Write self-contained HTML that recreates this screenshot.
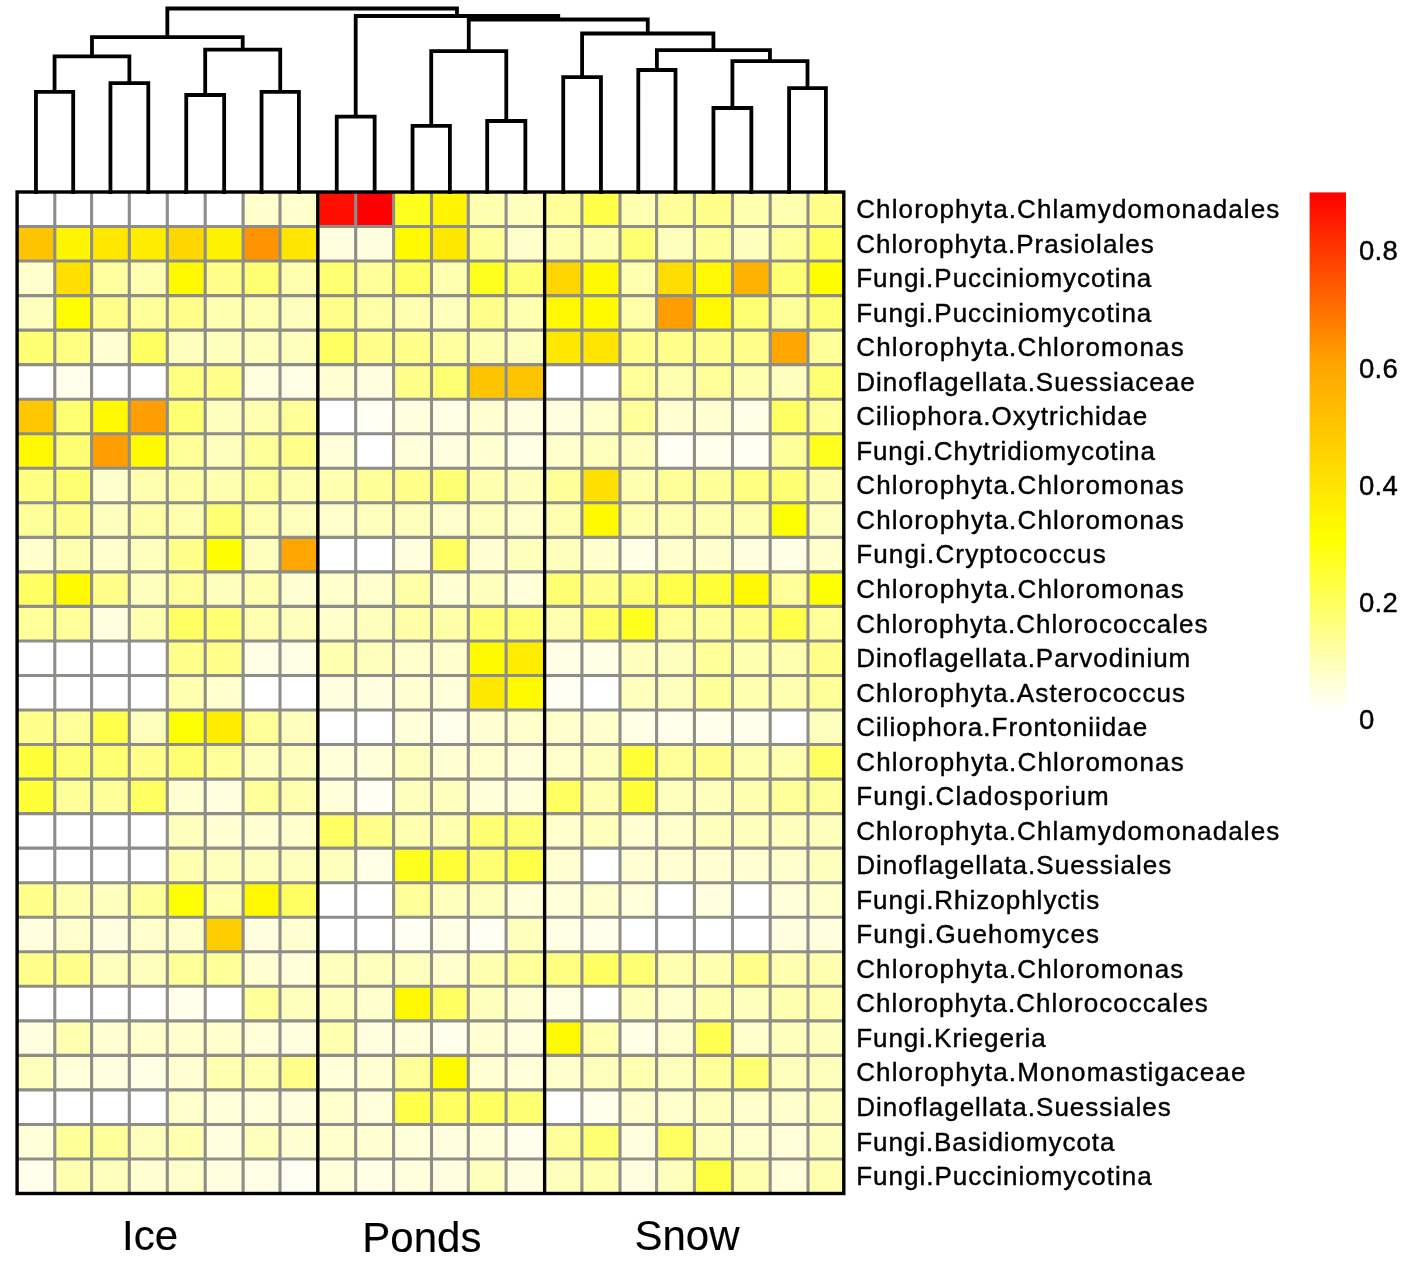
<!DOCTYPE html>
<html><head><meta charset="utf-8"><title>Heatmap</title>
<style>
html,body{margin:0;padding:0;background:#fff;}
body{width:1407px;height:1266px;position:relative;overflow:hidden;font-family:"Liberation Sans",sans-serif;color:#000;}
svg text{font-family:"Liberation Sans",sans-serif;}
</style></head><body>
<svg width="1407" height="1266" viewBox="0 0 1407 1266" style="position:absolute;left:0;top:0">
<rect x="17.10" y="192.00" width="38.00" height="34.83" fill="#ffffff"/>
<rect x="54.80" y="192.00" width="37.10" height="34.83" fill="#ffffff"/>
<rect x="91.60" y="192.00" width="38.00" height="34.83" fill="#ffffff"/>
<rect x="129.30" y="192.00" width="38.30" height="34.83" fill="#ffffff"/>
<rect x="167.30" y="192.00" width="38.20" height="34.83" fill="#ffffff"/>
<rect x="205.20" y="192.00" width="38.20" height="34.83" fill="#ffffff"/>
<rect x="243.10" y="192.00" width="37.20" height="34.83" fill="#ffffcb"/>
<rect x="280.00" y="192.00" width="38.10" height="34.83" fill="#ffffcb"/>
<rect x="317.80" y="192.00" width="38.20" height="34.83" fill="#ff0f00"/>
<rect x="355.70" y="192.00" width="38.20" height="34.83" fill="#ff0000"/>
<rect x="393.60" y="192.00" width="38.20" height="34.83" fill="#ffff1e"/>
<rect x="431.50" y="192.00" width="37.10" height="34.83" fill="#fff500"/>
<rect x="468.30" y="192.00" width="38.10" height="34.83" fill="#ffffaf"/>
<rect x="506.10" y="192.00" width="38.80" height="34.83" fill="#ffffbd"/>
<rect x="544.60" y="192.00" width="37.60" height="34.83" fill="#ffff99"/>
<rect x="581.90" y="192.00" width="38.40" height="34.83" fill="#ffff49"/>
<rect x="620.00" y="192.00" width="36.90" height="34.83" fill="#ffffaf"/>
<rect x="656.60" y="192.00" width="38.10" height="34.83" fill="#ffff99"/>
<rect x="694.40" y="192.00" width="38.40" height="34.83" fill="#ffff8a"/>
<rect x="732.50" y="192.00" width="38.00" height="34.83" fill="#ffffaf"/>
<rect x="770.20" y="192.00" width="38.10" height="34.83" fill="#ffffaf"/>
<rect x="808.00" y="192.00" width="36.10" height="34.83" fill="#ffff8a"/>
<rect x="17.10" y="226.53" width="38.00" height="34.83" fill="#ffc400"/>
<rect x="54.80" y="226.53" width="37.10" height="34.83" fill="#fff500"/>
<rect x="91.60" y="226.53" width="38.00" height="34.83" fill="#ffe800"/>
<rect x="129.30" y="226.53" width="38.30" height="34.83" fill="#ffed00"/>
<rect x="167.30" y="226.53" width="38.20" height="34.83" fill="#ffd700"/>
<rect x="205.20" y="226.53" width="38.20" height="34.83" fill="#fff200"/>
<rect x="243.10" y="226.53" width="37.20" height="34.83" fill="#ff9400"/>
<rect x="280.00" y="226.53" width="38.10" height="34.83" fill="#ffe500"/>
<rect x="317.80" y="226.53" width="38.20" height="34.83" fill="#ffffdf"/>
<rect x="355.70" y="226.53" width="38.20" height="34.83" fill="#ffffdf"/>
<rect x="393.60" y="226.53" width="38.20" height="34.83" fill="#fffa00"/>
<rect x="431.50" y="226.53" width="37.10" height="34.83" fill="#ffe800"/>
<rect x="468.30" y="226.53" width="38.10" height="34.83" fill="#ffff99"/>
<rect x="506.10" y="226.53" width="38.80" height="34.83" fill="#ffffcb"/>
<rect x="544.60" y="226.53" width="37.60" height="34.83" fill="#ffffaf"/>
<rect x="581.90" y="226.53" width="38.40" height="34.83" fill="#ffffaf"/>
<rect x="620.00" y="226.53" width="36.90" height="34.83" fill="#ffff72"/>
<rect x="656.60" y="226.53" width="38.10" height="34.83" fill="#ffffbd"/>
<rect x="694.40" y="226.53" width="38.40" height="34.83" fill="#ffff99"/>
<rect x="732.50" y="226.53" width="38.00" height="34.83" fill="#ffffbd"/>
<rect x="770.20" y="226.53" width="38.10" height="34.83" fill="#ffff99"/>
<rect x="808.00" y="226.53" width="36.10" height="34.83" fill="#ffff62"/>
<rect x="17.10" y="261.07" width="38.00" height="34.83" fill="#ffffcb"/>
<rect x="54.80" y="261.07" width="37.10" height="34.83" fill="#ffe000"/>
<rect x="91.60" y="261.07" width="38.00" height="34.83" fill="#ffffa0"/>
<rect x="129.30" y="261.07" width="38.30" height="34.83" fill="#ffffaf"/>
<rect x="167.30" y="261.07" width="38.20" height="34.83" fill="#fffa00"/>
<rect x="205.20" y="261.07" width="38.20" height="34.83" fill="#ffff8a"/>
<rect x="243.10" y="261.07" width="37.20" height="34.83" fill="#ffff72"/>
<rect x="280.00" y="261.07" width="38.10" height="34.83" fill="#ffffaf"/>
<rect x="317.80" y="261.07" width="38.20" height="34.83" fill="#ffff72"/>
<rect x="355.70" y="261.07" width="38.20" height="34.83" fill="#ffff99"/>
<rect x="393.60" y="261.07" width="38.20" height="34.83" fill="#ffff62"/>
<rect x="431.50" y="261.07" width="37.10" height="34.83" fill="#ffffaf"/>
<rect x="468.30" y="261.07" width="38.10" height="34.83" fill="#ffff1e"/>
<rect x="506.10" y="261.07" width="38.80" height="34.83" fill="#ffff72"/>
<rect x="544.60" y="261.07" width="37.60" height="34.83" fill="#ffd500"/>
<rect x="581.90" y="261.07" width="38.40" height="34.83" fill="#fff800"/>
<rect x="620.00" y="261.07" width="36.90" height="34.83" fill="#ffffaf"/>
<rect x="656.60" y="261.07" width="38.10" height="34.83" fill="#ffdd00"/>
<rect x="694.40" y="261.07" width="38.40" height="34.83" fill="#fff800"/>
<rect x="732.50" y="261.07" width="38.00" height="34.83" fill="#ffb200"/>
<rect x="770.20" y="261.07" width="38.10" height="34.83" fill="#ffff72"/>
<rect x="808.00" y="261.07" width="36.10" height="34.83" fill="#fffd00"/>
<rect x="17.10" y="295.60" width="38.00" height="34.83" fill="#ffffbd"/>
<rect x="54.80" y="295.60" width="37.10" height="34.83" fill="#fffd00"/>
<rect x="91.60" y="295.60" width="38.00" height="34.83" fill="#ffff8a"/>
<rect x="129.30" y="295.60" width="38.30" height="34.83" fill="#ffff99"/>
<rect x="167.30" y="295.60" width="38.20" height="34.83" fill="#ffff8a"/>
<rect x="205.20" y="295.60" width="38.20" height="34.83" fill="#ffffaf"/>
<rect x="243.10" y="295.60" width="37.20" height="34.83" fill="#ffffaf"/>
<rect x="280.00" y="295.60" width="38.10" height="34.83" fill="#ffffbd"/>
<rect x="317.80" y="295.60" width="38.20" height="34.83" fill="#ffff8a"/>
<rect x="355.70" y="295.60" width="38.20" height="34.83" fill="#ffffa8"/>
<rect x="393.60" y="295.60" width="38.20" height="34.83" fill="#ffffaf"/>
<rect x="431.50" y="295.60" width="37.10" height="34.83" fill="#ffffbd"/>
<rect x="468.30" y="295.60" width="38.10" height="34.83" fill="#ffff8a"/>
<rect x="506.10" y="295.60" width="38.80" height="34.83" fill="#ffffaf"/>
<rect x="544.60" y="295.60" width="37.60" height="34.83" fill="#fff800"/>
<rect x="581.90" y="295.60" width="38.40" height="34.83" fill="#fffa00"/>
<rect x="620.00" y="295.60" width="36.90" height="34.83" fill="#ffffa8"/>
<rect x="656.60" y="295.60" width="38.10" height="34.83" fill="#ff9e00"/>
<rect x="694.40" y="295.60" width="38.40" height="34.83" fill="#fff800"/>
<rect x="732.50" y="295.60" width="38.00" height="34.83" fill="#ffff72"/>
<rect x="770.20" y="295.60" width="38.10" height="34.83" fill="#ffff99"/>
<rect x="808.00" y="295.60" width="36.10" height="34.83" fill="#ffff72"/>
<rect x="17.10" y="330.14" width="38.00" height="34.83" fill="#ffff72"/>
<rect x="54.80" y="330.14" width="37.10" height="34.83" fill="#ffff82"/>
<rect x="91.60" y="330.14" width="38.00" height="34.83" fill="#ffffd2"/>
<rect x="129.30" y="330.14" width="38.30" height="34.83" fill="#ffff62"/>
<rect x="167.30" y="330.14" width="38.20" height="34.83" fill="#ffffbd"/>
<rect x="205.20" y="330.14" width="38.20" height="34.83" fill="#ffffbd"/>
<rect x="243.10" y="330.14" width="37.20" height="34.83" fill="#ffffbd"/>
<rect x="280.00" y="330.14" width="38.10" height="34.83" fill="#ffffbd"/>
<rect x="317.80" y="330.14" width="38.20" height="34.83" fill="#ffff62"/>
<rect x="355.70" y="330.14" width="38.20" height="34.83" fill="#ffff8a"/>
<rect x="393.60" y="330.14" width="38.20" height="34.83" fill="#ffff8a"/>
<rect x="431.50" y="330.14" width="37.10" height="34.83" fill="#ffffa0"/>
<rect x="468.30" y="330.14" width="38.10" height="34.83" fill="#ffffaf"/>
<rect x="506.10" y="330.14" width="38.80" height="34.83" fill="#ffffbd"/>
<rect x="544.60" y="330.14" width="37.60" height="34.83" fill="#ffe800"/>
<rect x="581.90" y="330.14" width="38.40" height="34.83" fill="#ffe500"/>
<rect x="620.00" y="330.14" width="36.90" height="34.83" fill="#ffff8a"/>
<rect x="656.60" y="330.14" width="38.10" height="34.83" fill="#ffff8a"/>
<rect x="694.40" y="330.14" width="38.40" height="34.83" fill="#ffff8a"/>
<rect x="732.50" y="330.14" width="38.00" height="34.83" fill="#ffff8a"/>
<rect x="770.20" y="330.14" width="38.10" height="34.83" fill="#ffa700"/>
<rect x="808.00" y="330.14" width="36.10" height="34.83" fill="#ffff99"/>
<rect x="17.10" y="364.67" width="38.00" height="34.83" fill="#ffffff"/>
<rect x="54.80" y="364.67" width="37.10" height="34.83" fill="#ffffec"/>
<rect x="91.60" y="364.67" width="38.00" height="34.83" fill="#ffffff"/>
<rect x="129.30" y="364.67" width="38.30" height="34.83" fill="#ffffff"/>
<rect x="167.30" y="364.67" width="38.20" height="34.83" fill="#ffff82"/>
<rect x="205.20" y="364.67" width="38.20" height="34.83" fill="#ffff8a"/>
<rect x="243.10" y="364.67" width="37.20" height="34.83" fill="#ffffdf"/>
<rect x="280.00" y="364.67" width="38.10" height="34.83" fill="#ffffe6"/>
<rect x="317.80" y="364.67" width="38.20" height="34.83" fill="#ffffd2"/>
<rect x="355.70" y="364.67" width="38.20" height="34.83" fill="#ffffdf"/>
<rect x="393.60" y="364.67" width="38.20" height="34.83" fill="#ffff8a"/>
<rect x="431.50" y="364.67" width="37.10" height="34.83" fill="#ffff72"/>
<rect x="468.30" y="364.67" width="38.10" height="34.83" fill="#ffc400"/>
<rect x="506.10" y="364.67" width="38.80" height="34.83" fill="#ffc400"/>
<rect x="544.60" y="364.67" width="37.60" height="34.83" fill="#ffffff"/>
<rect x="581.90" y="364.67" width="38.40" height="34.83" fill="#ffffff"/>
<rect x="620.00" y="364.67" width="36.90" height="34.83" fill="#ffff99"/>
<rect x="656.60" y="364.67" width="38.10" height="34.83" fill="#ffffaf"/>
<rect x="694.40" y="364.67" width="38.40" height="34.83" fill="#ffff99"/>
<rect x="732.50" y="364.67" width="38.00" height="34.83" fill="#ffffaf"/>
<rect x="770.20" y="364.67" width="38.10" height="34.83" fill="#ffffbd"/>
<rect x="808.00" y="364.67" width="36.10" height="34.83" fill="#ffff72"/>
<rect x="17.10" y="399.21" width="38.00" height="34.83" fill="#ffc700"/>
<rect x="54.80" y="399.21" width="37.10" height="34.83" fill="#ffff72"/>
<rect x="91.60" y="399.21" width="38.00" height="34.83" fill="#fff800"/>
<rect x="129.30" y="399.21" width="38.30" height="34.83" fill="#ff9e00"/>
<rect x="167.30" y="399.21" width="38.20" height="34.83" fill="#ffff72"/>
<rect x="205.20" y="399.21" width="38.20" height="34.83" fill="#ffffbd"/>
<rect x="243.10" y="399.21" width="37.20" height="34.83" fill="#ffffaf"/>
<rect x="280.00" y="399.21" width="38.10" height="34.83" fill="#ffff99"/>
<rect x="317.80" y="399.21" width="38.20" height="34.83" fill="#ffffff"/>
<rect x="355.70" y="399.21" width="38.20" height="34.83" fill="#fffff3"/>
<rect x="393.60" y="399.21" width="38.20" height="34.83" fill="#ffffdf"/>
<rect x="431.50" y="399.21" width="37.10" height="34.83" fill="#ffffe6"/>
<rect x="468.30" y="399.21" width="38.10" height="34.83" fill="#ffffd2"/>
<rect x="506.10" y="399.21" width="38.80" height="34.83" fill="#ffffdf"/>
<rect x="544.60" y="399.21" width="37.60" height="34.83" fill="#ffffdf"/>
<rect x="581.90" y="399.21" width="38.40" height="34.83" fill="#ffffcb"/>
<rect x="620.00" y="399.21" width="36.90" height="34.83" fill="#ffff99"/>
<rect x="656.60" y="399.21" width="38.10" height="34.83" fill="#ffffd2"/>
<rect x="694.40" y="399.21" width="38.40" height="34.83" fill="#ffffd2"/>
<rect x="732.50" y="399.21" width="38.00" height="34.83" fill="#ffffe6"/>
<rect x="770.20" y="399.21" width="38.10" height="34.83" fill="#ffff62"/>
<rect x="808.00" y="399.21" width="36.10" height="34.83" fill="#ffff99"/>
<rect x="17.10" y="433.74" width="38.00" height="34.83" fill="#fff800"/>
<rect x="54.80" y="433.74" width="37.10" height="34.83" fill="#ffff72"/>
<rect x="91.60" y="433.74" width="38.00" height="34.83" fill="#ff9e00"/>
<rect x="129.30" y="433.74" width="38.30" height="34.83" fill="#fffa00"/>
<rect x="167.30" y="433.74" width="38.20" height="34.83" fill="#ffff99"/>
<rect x="205.20" y="433.74" width="38.20" height="34.83" fill="#ffffbd"/>
<rect x="243.10" y="433.74" width="37.20" height="34.83" fill="#ffff99"/>
<rect x="280.00" y="433.74" width="38.10" height="34.83" fill="#ffff8a"/>
<rect x="317.80" y="433.74" width="38.20" height="34.83" fill="#ffffd9"/>
<rect x="355.70" y="433.74" width="38.20" height="34.83" fill="#ffffff"/>
<rect x="393.60" y="433.74" width="38.20" height="34.83" fill="#ffffd9"/>
<rect x="431.50" y="433.74" width="37.10" height="34.83" fill="#ffffdf"/>
<rect x="468.30" y="433.74" width="38.10" height="34.83" fill="#ffffd2"/>
<rect x="506.10" y="433.74" width="38.80" height="34.83" fill="#ffffe6"/>
<rect x="544.60" y="433.74" width="37.60" height="34.83" fill="#ffffcb"/>
<rect x="581.90" y="433.74" width="38.40" height="34.83" fill="#ffffbd"/>
<rect x="620.00" y="433.74" width="36.90" height="34.83" fill="#ffffbd"/>
<rect x="656.60" y="433.74" width="38.10" height="34.83" fill="#fffff3"/>
<rect x="694.40" y="433.74" width="38.40" height="34.83" fill="#ffffec"/>
<rect x="732.50" y="433.74" width="38.00" height="34.83" fill="#fffff3"/>
<rect x="770.20" y="433.74" width="38.10" height="34.83" fill="#ffff99"/>
<rect x="808.00" y="433.74" width="36.10" height="34.83" fill="#ffff1e"/>
<rect x="17.10" y="468.28" width="38.00" height="34.83" fill="#ffff82"/>
<rect x="54.80" y="468.28" width="37.10" height="34.83" fill="#ffff72"/>
<rect x="91.60" y="468.28" width="38.00" height="34.83" fill="#ffffcb"/>
<rect x="129.30" y="468.28" width="38.30" height="34.83" fill="#ffffaf"/>
<rect x="167.30" y="468.28" width="38.20" height="34.83" fill="#ffffa8"/>
<rect x="205.20" y="468.28" width="38.20" height="34.83" fill="#ffffaf"/>
<rect x="243.10" y="468.28" width="37.20" height="34.83" fill="#ffff99"/>
<rect x="280.00" y="468.28" width="38.10" height="34.83" fill="#ffffaf"/>
<rect x="317.80" y="468.28" width="38.20" height="34.83" fill="#ffffaf"/>
<rect x="355.70" y="468.28" width="38.20" height="34.83" fill="#ffff99"/>
<rect x="393.60" y="468.28" width="38.20" height="34.83" fill="#ffff8a"/>
<rect x="431.50" y="468.28" width="37.10" height="34.83" fill="#ffff72"/>
<rect x="468.30" y="468.28" width="38.10" height="34.83" fill="#ffffaf"/>
<rect x="506.10" y="468.28" width="38.80" height="34.83" fill="#ffffbd"/>
<rect x="544.60" y="468.28" width="37.60" height="34.83" fill="#ffff99"/>
<rect x="581.90" y="468.28" width="38.40" height="34.83" fill="#ffe000"/>
<rect x="620.00" y="468.28" width="36.90" height="34.83" fill="#ffffaf"/>
<rect x="656.60" y="468.28" width="38.10" height="34.83" fill="#ffff99"/>
<rect x="694.40" y="468.28" width="38.40" height="34.83" fill="#ffff99"/>
<rect x="732.50" y="468.28" width="38.00" height="34.83" fill="#ffff82"/>
<rect x="770.20" y="468.28" width="38.10" height="34.83" fill="#ffff72"/>
<rect x="808.00" y="468.28" width="36.10" height="34.83" fill="#ffffaf"/>
<rect x="17.10" y="502.81" width="38.00" height="34.83" fill="#ffff99"/>
<rect x="54.80" y="502.81" width="37.10" height="34.83" fill="#ffff8a"/>
<rect x="91.60" y="502.81" width="38.00" height="34.83" fill="#ffffbd"/>
<rect x="129.30" y="502.81" width="38.30" height="34.83" fill="#ffffa8"/>
<rect x="167.30" y="502.81" width="38.20" height="34.83" fill="#ffffaf"/>
<rect x="205.20" y="502.81" width="38.20" height="34.83" fill="#ffff72"/>
<rect x="243.10" y="502.81" width="37.20" height="34.83" fill="#ffffaf"/>
<rect x="280.00" y="502.81" width="38.10" height="34.83" fill="#ffffbd"/>
<rect x="317.80" y="502.81" width="38.20" height="34.83" fill="#ffffcb"/>
<rect x="355.70" y="502.81" width="38.20" height="34.83" fill="#ffffbd"/>
<rect x="393.60" y="502.81" width="38.20" height="34.83" fill="#ffffbd"/>
<rect x="431.50" y="502.81" width="37.10" height="34.83" fill="#ffffcb"/>
<rect x="468.30" y="502.81" width="38.10" height="34.83" fill="#ffffbd"/>
<rect x="506.10" y="502.81" width="38.80" height="34.83" fill="#ffffcb"/>
<rect x="544.60" y="502.81" width="37.60" height="34.83" fill="#ffffaf"/>
<rect x="581.90" y="502.81" width="38.40" height="34.83" fill="#fffa00"/>
<rect x="620.00" y="502.81" width="36.90" height="34.83" fill="#ffffaf"/>
<rect x="656.60" y="502.81" width="38.10" height="34.83" fill="#ffffaf"/>
<rect x="694.40" y="502.81" width="38.40" height="34.83" fill="#ffffaf"/>
<rect x="732.50" y="502.81" width="38.00" height="34.83" fill="#ffffaf"/>
<rect x="770.20" y="502.81" width="38.10" height="34.83" fill="#ffff03"/>
<rect x="808.00" y="502.81" width="36.10" height="34.83" fill="#ffffbd"/>
<rect x="17.10" y="537.34" width="38.00" height="34.83" fill="#ffffcb"/>
<rect x="54.80" y="537.34" width="37.10" height="34.83" fill="#ffffaf"/>
<rect x="91.60" y="537.34" width="38.00" height="34.83" fill="#ffffcb"/>
<rect x="129.30" y="537.34" width="38.30" height="34.83" fill="#ffffbd"/>
<rect x="167.30" y="537.34" width="38.20" height="34.83" fill="#ffff8a"/>
<rect x="205.20" y="537.34" width="38.20" height="34.83" fill="#fffd00"/>
<rect x="243.10" y="537.34" width="37.20" height="34.83" fill="#ffffbd"/>
<rect x="280.00" y="537.34" width="38.10" height="34.83" fill="#ffa700"/>
<rect x="317.80" y="537.34" width="38.20" height="34.83" fill="#ffffff"/>
<rect x="355.70" y="537.34" width="38.20" height="34.83" fill="#ffffff"/>
<rect x="393.60" y="537.34" width="38.20" height="34.83" fill="#ffffdf"/>
<rect x="431.50" y="537.34" width="37.10" height="34.83" fill="#ffff62"/>
<rect x="468.30" y="537.34" width="38.10" height="34.83" fill="#ffffd2"/>
<rect x="506.10" y="537.34" width="38.80" height="34.83" fill="#ffffbd"/>
<rect x="544.60" y="537.34" width="37.60" height="34.83" fill="#ffffbd"/>
<rect x="581.90" y="537.34" width="38.40" height="34.83" fill="#ffffcb"/>
<rect x="620.00" y="537.34" width="36.90" height="34.83" fill="#ffffe6"/>
<rect x="656.60" y="537.34" width="38.10" height="34.83" fill="#ffffcb"/>
<rect x="694.40" y="537.34" width="38.40" height="34.83" fill="#ffffcb"/>
<rect x="732.50" y="537.34" width="38.00" height="34.83" fill="#ffffdf"/>
<rect x="770.20" y="537.34" width="38.10" height="34.83" fill="#ffffe6"/>
<rect x="808.00" y="537.34" width="36.10" height="34.83" fill="#ffffcb"/>
<rect x="17.10" y="571.88" width="38.00" height="34.83" fill="#ffff62"/>
<rect x="54.80" y="571.88" width="37.10" height="34.83" fill="#fffa00"/>
<rect x="91.60" y="571.88" width="38.00" height="34.83" fill="#ffff8a"/>
<rect x="129.30" y="571.88" width="38.30" height="34.83" fill="#ffffbd"/>
<rect x="167.30" y="571.88" width="38.20" height="34.83" fill="#ffff99"/>
<rect x="205.20" y="571.88" width="38.20" height="34.83" fill="#ffffbd"/>
<rect x="243.10" y="571.88" width="37.20" height="34.83" fill="#ffffaf"/>
<rect x="280.00" y="571.88" width="38.10" height="34.83" fill="#ffffd2"/>
<rect x="317.80" y="571.88" width="38.20" height="34.83" fill="#ffffcb"/>
<rect x="355.70" y="571.88" width="38.20" height="34.83" fill="#ffffcb"/>
<rect x="393.60" y="571.88" width="38.20" height="34.83" fill="#ffffa8"/>
<rect x="431.50" y="571.88" width="37.10" height="34.83" fill="#ffffd2"/>
<rect x="468.30" y="571.88" width="38.10" height="34.83" fill="#ffffbd"/>
<rect x="506.10" y="571.88" width="38.80" height="34.83" fill="#ffffd9"/>
<rect x="544.60" y="571.88" width="37.60" height="34.83" fill="#ffff72"/>
<rect x="581.90" y="571.88" width="38.40" height="34.83" fill="#ffff8a"/>
<rect x="620.00" y="571.88" width="36.90" height="34.83" fill="#ffff72"/>
<rect x="656.60" y="571.88" width="38.10" height="34.83" fill="#ffff49"/>
<rect x="694.40" y="571.88" width="38.40" height="34.83" fill="#ffff38"/>
<rect x="732.50" y="571.88" width="38.00" height="34.83" fill="#fff800"/>
<rect x="770.20" y="571.88" width="38.10" height="34.83" fill="#ffff99"/>
<rect x="808.00" y="571.88" width="36.10" height="34.83" fill="#ffff03"/>
<rect x="17.10" y="606.41" width="38.00" height="34.83" fill="#ffff99"/>
<rect x="54.80" y="606.41" width="37.10" height="34.83" fill="#ffff99"/>
<rect x="91.60" y="606.41" width="38.00" height="34.83" fill="#ffffdf"/>
<rect x="129.30" y="606.41" width="38.30" height="34.83" fill="#ffffaf"/>
<rect x="167.30" y="606.41" width="38.20" height="34.83" fill="#ffff62"/>
<rect x="205.20" y="606.41" width="38.20" height="34.83" fill="#ffff72"/>
<rect x="243.10" y="606.41" width="37.20" height="34.83" fill="#ffffaf"/>
<rect x="280.00" y="606.41" width="38.10" height="34.83" fill="#ffffbd"/>
<rect x="317.80" y="606.41" width="38.20" height="34.83" fill="#ffffcb"/>
<rect x="355.70" y="606.41" width="38.20" height="34.83" fill="#ffffbd"/>
<rect x="393.60" y="606.41" width="38.20" height="34.83" fill="#ffffa8"/>
<rect x="431.50" y="606.41" width="37.10" height="34.83" fill="#ffffa8"/>
<rect x="468.30" y="606.41" width="38.10" height="34.83" fill="#ffff72"/>
<rect x="506.10" y="606.41" width="38.80" height="34.83" fill="#ffff72"/>
<rect x="544.60" y="606.41" width="37.60" height="34.83" fill="#ffffaf"/>
<rect x="581.90" y="606.41" width="38.40" height="34.83" fill="#ffff62"/>
<rect x="620.00" y="606.41" width="36.90" height="34.83" fill="#ffff1e"/>
<rect x="656.60" y="606.41" width="38.10" height="34.83" fill="#ffff99"/>
<rect x="694.40" y="606.41" width="38.40" height="34.83" fill="#ffff99"/>
<rect x="732.50" y="606.41" width="38.00" height="34.83" fill="#ffff8a"/>
<rect x="770.20" y="606.41" width="38.10" height="34.83" fill="#ffff49"/>
<rect x="808.00" y="606.41" width="36.10" height="34.83" fill="#ffff99"/>
<rect x="17.10" y="640.95" width="38.00" height="34.83" fill="#ffffff"/>
<rect x="54.80" y="640.95" width="37.10" height="34.83" fill="#ffffff"/>
<rect x="91.60" y="640.95" width="38.00" height="34.83" fill="#ffffff"/>
<rect x="129.30" y="640.95" width="38.30" height="34.83" fill="#ffffff"/>
<rect x="167.30" y="640.95" width="38.20" height="34.83" fill="#ffff8a"/>
<rect x="205.20" y="640.95" width="38.20" height="34.83" fill="#ffff8a"/>
<rect x="243.10" y="640.95" width="37.20" height="34.83" fill="#ffffe6"/>
<rect x="280.00" y="640.95" width="38.10" height="34.83" fill="#ffffe6"/>
<rect x="317.80" y="640.95" width="38.20" height="34.83" fill="#ffffaf"/>
<rect x="355.70" y="640.95" width="38.20" height="34.83" fill="#ffffbd"/>
<rect x="393.60" y="640.95" width="38.20" height="34.83" fill="#ffffcb"/>
<rect x="431.50" y="640.95" width="37.10" height="34.83" fill="#ffffcb"/>
<rect x="468.30" y="640.95" width="38.10" height="34.83" fill="#fffa00"/>
<rect x="506.10" y="640.95" width="38.80" height="34.83" fill="#ffed00"/>
<rect x="544.60" y="640.95" width="37.60" height="34.83" fill="#ffffe6"/>
<rect x="581.90" y="640.95" width="38.40" height="34.83" fill="#ffffe6"/>
<rect x="620.00" y="640.95" width="36.90" height="34.83" fill="#ffffbd"/>
<rect x="656.60" y="640.95" width="38.10" height="34.83" fill="#ffffbd"/>
<rect x="694.40" y="640.95" width="38.40" height="34.83" fill="#ffff99"/>
<rect x="732.50" y="640.95" width="38.00" height="34.83" fill="#ffffaf"/>
<rect x="770.20" y="640.95" width="38.10" height="34.83" fill="#ffffaf"/>
<rect x="808.00" y="640.95" width="36.10" height="34.83" fill="#ffff8a"/>
<rect x="17.10" y="675.48" width="38.00" height="34.83" fill="#ffffff"/>
<rect x="54.80" y="675.48" width="37.10" height="34.83" fill="#ffffff"/>
<rect x="91.60" y="675.48" width="38.00" height="34.83" fill="#ffffff"/>
<rect x="129.30" y="675.48" width="38.30" height="34.83" fill="#ffffff"/>
<rect x="167.30" y="675.48" width="38.20" height="34.83" fill="#ffffaf"/>
<rect x="205.20" y="675.48" width="38.20" height="34.83" fill="#ffffcb"/>
<rect x="243.10" y="675.48" width="37.20" height="34.83" fill="#ffffff"/>
<rect x="280.00" y="675.48" width="38.10" height="34.83" fill="#ffffff"/>
<rect x="317.80" y="675.48" width="38.20" height="34.83" fill="#ffffdf"/>
<rect x="355.70" y="675.48" width="38.20" height="34.83" fill="#ffffdf"/>
<rect x="393.60" y="675.48" width="38.20" height="34.83" fill="#ffffd2"/>
<rect x="431.50" y="675.48" width="37.10" height="34.83" fill="#ffffd9"/>
<rect x="468.30" y="675.48" width="38.10" height="34.83" fill="#ffe800"/>
<rect x="506.10" y="675.48" width="38.80" height="34.83" fill="#fffa00"/>
<rect x="544.60" y="675.48" width="37.60" height="34.83" fill="#fffff3"/>
<rect x="581.90" y="675.48" width="38.40" height="34.83" fill="#ffffff"/>
<rect x="620.00" y="675.48" width="36.90" height="34.83" fill="#ffffbd"/>
<rect x="656.60" y="675.48" width="38.10" height="34.83" fill="#ffffbd"/>
<rect x="694.40" y="675.48" width="38.40" height="34.83" fill="#ffff99"/>
<rect x="732.50" y="675.48" width="38.00" height="34.83" fill="#ffffaf"/>
<rect x="770.20" y="675.48" width="38.10" height="34.83" fill="#ffffaf"/>
<rect x="808.00" y="675.48" width="36.10" height="34.83" fill="#ffff99"/>
<rect x="17.10" y="710.02" width="38.00" height="34.83" fill="#ffff8a"/>
<rect x="54.80" y="710.02" width="37.10" height="34.83" fill="#ffff99"/>
<rect x="91.60" y="710.02" width="38.00" height="34.83" fill="#ffff49"/>
<rect x="129.30" y="710.02" width="38.30" height="34.83" fill="#ffffbd"/>
<rect x="167.30" y="710.02" width="38.20" height="34.83" fill="#ffff03"/>
<rect x="205.20" y="710.02" width="38.20" height="34.83" fill="#ffed00"/>
<rect x="243.10" y="710.02" width="37.20" height="34.83" fill="#ffff99"/>
<rect x="280.00" y="710.02" width="38.10" height="34.83" fill="#ffffbd"/>
<rect x="317.80" y="710.02" width="38.20" height="34.83" fill="#ffffff"/>
<rect x="355.70" y="710.02" width="38.20" height="34.83" fill="#ffffff"/>
<rect x="393.60" y="710.02" width="38.20" height="34.83" fill="#ffffd9"/>
<rect x="431.50" y="710.02" width="37.10" height="34.83" fill="#ffffec"/>
<rect x="468.30" y="710.02" width="38.10" height="34.83" fill="#ffffd2"/>
<rect x="506.10" y="710.02" width="38.80" height="34.83" fill="#ffffcb"/>
<rect x="544.60" y="710.02" width="37.60" height="34.83" fill="#ffffcb"/>
<rect x="581.90" y="710.02" width="38.40" height="34.83" fill="#ffffcb"/>
<rect x="620.00" y="710.02" width="36.90" height="34.83" fill="#ffffe6"/>
<rect x="656.60" y="710.02" width="38.10" height="34.83" fill="#ffffec"/>
<rect x="694.40" y="710.02" width="38.40" height="34.83" fill="#ffffec"/>
<rect x="732.50" y="710.02" width="38.00" height="34.83" fill="#ffffec"/>
<rect x="770.20" y="710.02" width="38.10" height="34.83" fill="#ffffff"/>
<rect x="808.00" y="710.02" width="36.10" height="34.83" fill="#ffffbd"/>
<rect x="17.10" y="744.55" width="38.00" height="34.83" fill="#ffff38"/>
<rect x="54.80" y="744.55" width="37.10" height="34.83" fill="#ffff72"/>
<rect x="91.60" y="744.55" width="38.00" height="34.83" fill="#ffff72"/>
<rect x="129.30" y="744.55" width="38.30" height="34.83" fill="#ffff8a"/>
<rect x="167.30" y="744.55" width="38.20" height="34.83" fill="#ffff72"/>
<rect x="205.20" y="744.55" width="38.20" height="34.83" fill="#ffff99"/>
<rect x="243.10" y="744.55" width="37.20" height="34.83" fill="#ffffbd"/>
<rect x="280.00" y="744.55" width="38.10" height="34.83" fill="#ffffbd"/>
<rect x="317.80" y="744.55" width="38.20" height="34.83" fill="#ffffd9"/>
<rect x="355.70" y="744.55" width="38.20" height="34.83" fill="#ffffd9"/>
<rect x="393.60" y="744.55" width="38.20" height="34.83" fill="#ffffbd"/>
<rect x="431.50" y="744.55" width="37.10" height="34.83" fill="#ffffd2"/>
<rect x="468.30" y="744.55" width="38.10" height="34.83" fill="#ffffcb"/>
<rect x="506.10" y="744.55" width="38.80" height="34.83" fill="#ffffd9"/>
<rect x="544.60" y="744.55" width="37.60" height="34.83" fill="#ffffcb"/>
<rect x="581.90" y="744.55" width="38.40" height="34.83" fill="#ffffbd"/>
<rect x="620.00" y="744.55" width="36.90" height="34.83" fill="#ffff38"/>
<rect x="656.60" y="744.55" width="38.10" height="34.83" fill="#ffff99"/>
<rect x="694.40" y="744.55" width="38.40" height="34.83" fill="#ffff8a"/>
<rect x="732.50" y="744.55" width="38.00" height="34.83" fill="#ffffaf"/>
<rect x="770.20" y="744.55" width="38.10" height="34.83" fill="#ffffaf"/>
<rect x="808.00" y="744.55" width="36.10" height="34.83" fill="#ffff62"/>
<rect x="17.10" y="779.09" width="38.00" height="34.83" fill="#ffff38"/>
<rect x="54.80" y="779.09" width="37.10" height="34.83" fill="#ffff99"/>
<rect x="91.60" y="779.09" width="38.00" height="34.83" fill="#ffff99"/>
<rect x="129.30" y="779.09" width="38.30" height="34.83" fill="#ffff62"/>
<rect x="167.30" y="779.09" width="38.20" height="34.83" fill="#ffffd2"/>
<rect x="205.20" y="779.09" width="38.20" height="34.83" fill="#ffffdf"/>
<rect x="243.10" y="779.09" width="37.20" height="34.83" fill="#ffff99"/>
<rect x="280.00" y="779.09" width="38.10" height="34.83" fill="#ffffaf"/>
<rect x="317.80" y="779.09" width="38.20" height="34.83" fill="#ffffd9"/>
<rect x="355.70" y="779.09" width="38.20" height="34.83" fill="#fffff3"/>
<rect x="393.60" y="779.09" width="38.20" height="34.83" fill="#ffffbd"/>
<rect x="431.50" y="779.09" width="37.10" height="34.83" fill="#ffffbd"/>
<rect x="468.30" y="779.09" width="38.10" height="34.83" fill="#ffffd9"/>
<rect x="506.10" y="779.09" width="38.80" height="34.83" fill="#ffffd9"/>
<rect x="544.60" y="779.09" width="37.60" height="34.83" fill="#ffff62"/>
<rect x="581.90" y="779.09" width="38.40" height="34.83" fill="#ffffaf"/>
<rect x="620.00" y="779.09" width="36.90" height="34.83" fill="#ffff38"/>
<rect x="656.60" y="779.09" width="38.10" height="34.83" fill="#ffffbd"/>
<rect x="694.40" y="779.09" width="38.40" height="34.83" fill="#ffffbd"/>
<rect x="732.50" y="779.09" width="38.00" height="34.83" fill="#ffffaf"/>
<rect x="770.20" y="779.09" width="38.10" height="34.83" fill="#ffff99"/>
<rect x="808.00" y="779.09" width="36.10" height="34.83" fill="#ffff99"/>
<rect x="17.10" y="813.62" width="38.00" height="34.83" fill="#ffffff"/>
<rect x="54.80" y="813.62" width="37.10" height="34.83" fill="#ffffff"/>
<rect x="91.60" y="813.62" width="38.00" height="34.83" fill="#ffffff"/>
<rect x="129.30" y="813.62" width="38.30" height="34.83" fill="#ffffff"/>
<rect x="167.30" y="813.62" width="38.20" height="34.83" fill="#ffffbd"/>
<rect x="205.20" y="813.62" width="38.20" height="34.83" fill="#ffffd2"/>
<rect x="243.10" y="813.62" width="37.20" height="34.83" fill="#ffffd2"/>
<rect x="280.00" y="813.62" width="38.10" height="34.83" fill="#ffffcb"/>
<rect x="317.80" y="813.62" width="38.20" height="34.83" fill="#ffff62"/>
<rect x="355.70" y="813.62" width="38.20" height="34.83" fill="#ffff8a"/>
<rect x="393.60" y="813.62" width="38.20" height="34.83" fill="#ffffaf"/>
<rect x="431.50" y="813.62" width="37.10" height="34.83" fill="#ffffaf"/>
<rect x="468.30" y="813.62" width="38.10" height="34.83" fill="#ffff72"/>
<rect x="506.10" y="813.62" width="38.80" height="34.83" fill="#ffff72"/>
<rect x="544.60" y="813.62" width="37.60" height="34.83" fill="#ffffcb"/>
<rect x="581.90" y="813.62" width="38.40" height="34.83" fill="#ffffbd"/>
<rect x="620.00" y="813.62" width="36.90" height="34.83" fill="#ffffd2"/>
<rect x="656.60" y="813.62" width="38.10" height="34.83" fill="#ffffcb"/>
<rect x="694.40" y="813.62" width="38.40" height="34.83" fill="#ffffbd"/>
<rect x="732.50" y="813.62" width="38.00" height="34.83" fill="#ffffbd"/>
<rect x="770.20" y="813.62" width="38.10" height="34.83" fill="#ffffbd"/>
<rect x="808.00" y="813.62" width="36.10" height="34.83" fill="#ffffbd"/>
<rect x="17.10" y="848.16" width="38.00" height="34.83" fill="#ffffff"/>
<rect x="54.80" y="848.16" width="37.10" height="34.83" fill="#ffffff"/>
<rect x="91.60" y="848.16" width="38.00" height="34.83" fill="#ffffff"/>
<rect x="129.30" y="848.16" width="38.30" height="34.83" fill="#ffffff"/>
<rect x="167.30" y="848.16" width="38.20" height="34.83" fill="#ffffaf"/>
<rect x="205.20" y="848.16" width="38.20" height="34.83" fill="#ffffbd"/>
<rect x="243.10" y="848.16" width="37.20" height="34.83" fill="#ffffbd"/>
<rect x="280.00" y="848.16" width="38.10" height="34.83" fill="#ffffbd"/>
<rect x="317.80" y="848.16" width="38.20" height="34.83" fill="#ffffbd"/>
<rect x="355.70" y="848.16" width="38.20" height="34.83" fill="#ffffe6"/>
<rect x="393.60" y="848.16" width="38.20" height="34.83" fill="#ffff1e"/>
<rect x="431.50" y="848.16" width="37.10" height="34.83" fill="#ffff38"/>
<rect x="468.30" y="848.16" width="38.10" height="34.83" fill="#ffff72"/>
<rect x="506.10" y="848.16" width="38.80" height="34.83" fill="#ffff49"/>
<rect x="544.60" y="848.16" width="37.60" height="34.83" fill="#ffffd2"/>
<rect x="581.90" y="848.16" width="38.40" height="34.83" fill="#ffffff"/>
<rect x="620.00" y="848.16" width="36.90" height="34.83" fill="#ffffd2"/>
<rect x="656.60" y="848.16" width="38.10" height="34.83" fill="#ffffd2"/>
<rect x="694.40" y="848.16" width="38.40" height="34.83" fill="#ffffd2"/>
<rect x="732.50" y="848.16" width="38.00" height="34.83" fill="#ffffd2"/>
<rect x="770.20" y="848.16" width="38.10" height="34.83" fill="#ffffcb"/>
<rect x="808.00" y="848.16" width="36.10" height="34.83" fill="#ffffbd"/>
<rect x="17.10" y="882.69" width="38.00" height="34.83" fill="#ffff8a"/>
<rect x="54.80" y="882.69" width="37.10" height="34.83" fill="#ffffaf"/>
<rect x="91.60" y="882.69" width="38.00" height="34.83" fill="#ffffbd"/>
<rect x="129.30" y="882.69" width="38.30" height="34.83" fill="#ffff99"/>
<rect x="167.30" y="882.69" width="38.20" height="34.83" fill="#ffff03"/>
<rect x="205.20" y="882.69" width="38.20" height="34.83" fill="#ffffaf"/>
<rect x="243.10" y="882.69" width="37.20" height="34.83" fill="#fff800"/>
<rect x="280.00" y="882.69" width="38.10" height="34.83" fill="#ffff62"/>
<rect x="317.80" y="882.69" width="38.20" height="34.83" fill="#ffffff"/>
<rect x="355.70" y="882.69" width="38.20" height="34.83" fill="#ffffff"/>
<rect x="393.60" y="882.69" width="38.20" height="34.83" fill="#ffff99"/>
<rect x="431.50" y="882.69" width="37.10" height="34.83" fill="#ffffbd"/>
<rect x="468.30" y="882.69" width="38.10" height="34.83" fill="#ffffbd"/>
<rect x="506.10" y="882.69" width="38.80" height="34.83" fill="#ffffd9"/>
<rect x="544.60" y="882.69" width="37.60" height="34.83" fill="#ffffd9"/>
<rect x="581.90" y="882.69" width="38.40" height="34.83" fill="#ffffcb"/>
<rect x="620.00" y="882.69" width="36.90" height="34.83" fill="#ffffd9"/>
<rect x="656.60" y="882.69" width="38.10" height="34.83" fill="#ffffff"/>
<rect x="694.40" y="882.69" width="38.40" height="34.83" fill="#ffffdf"/>
<rect x="732.50" y="882.69" width="38.00" height="34.83" fill="#ffffff"/>
<rect x="770.20" y="882.69" width="38.10" height="34.83" fill="#ffffd9"/>
<rect x="808.00" y="882.69" width="36.10" height="34.83" fill="#ffffcb"/>
<rect x="17.10" y="917.22" width="38.00" height="34.83" fill="#ffffdf"/>
<rect x="54.80" y="917.22" width="37.10" height="34.83" fill="#ffffcb"/>
<rect x="91.60" y="917.22" width="38.00" height="34.83" fill="#ffffdf"/>
<rect x="129.30" y="917.22" width="38.30" height="34.83" fill="#ffffcb"/>
<rect x="167.30" y="917.22" width="38.20" height="34.83" fill="#ffffcb"/>
<rect x="205.20" y="917.22" width="38.20" height="34.83" fill="#ffcd00"/>
<rect x="243.10" y="917.22" width="37.20" height="34.83" fill="#ffffdf"/>
<rect x="280.00" y="917.22" width="38.10" height="34.83" fill="#ffffd2"/>
<rect x="317.80" y="917.22" width="38.20" height="34.83" fill="#ffffff"/>
<rect x="355.70" y="917.22" width="38.20" height="34.83" fill="#ffffff"/>
<rect x="393.60" y="917.22" width="38.20" height="34.83" fill="#fffff3"/>
<rect x="431.50" y="917.22" width="37.10" height="34.83" fill="#ffffe6"/>
<rect x="468.30" y="917.22" width="38.10" height="34.83" fill="#fffff3"/>
<rect x="506.10" y="917.22" width="38.80" height="34.83" fill="#ffffbd"/>
<rect x="544.60" y="917.22" width="37.60" height="34.83" fill="#ffffe6"/>
<rect x="581.90" y="917.22" width="38.40" height="34.83" fill="#ffffec"/>
<rect x="620.00" y="917.22" width="36.90" height="34.83" fill="#ffffff"/>
<rect x="656.60" y="917.22" width="38.10" height="34.83" fill="#ffffff"/>
<rect x="694.40" y="917.22" width="38.40" height="34.83" fill="#ffffff"/>
<rect x="732.50" y="917.22" width="38.00" height="34.83" fill="#ffffff"/>
<rect x="770.20" y="917.22" width="38.10" height="34.83" fill="#ffffdf"/>
<rect x="808.00" y="917.22" width="36.10" height="34.83" fill="#ffffdf"/>
<rect x="17.10" y="951.76" width="38.00" height="34.83" fill="#ffff8a"/>
<rect x="54.80" y="951.76" width="37.10" height="34.83" fill="#ffff8a"/>
<rect x="91.60" y="951.76" width="38.00" height="34.83" fill="#ffffbd"/>
<rect x="129.30" y="951.76" width="38.30" height="34.83" fill="#ffffbd"/>
<rect x="167.30" y="951.76" width="38.20" height="34.83" fill="#ffff99"/>
<rect x="205.20" y="951.76" width="38.20" height="34.83" fill="#ffff99"/>
<rect x="243.10" y="951.76" width="37.20" height="34.83" fill="#ffffd2"/>
<rect x="280.00" y="951.76" width="38.10" height="34.83" fill="#ffffd9"/>
<rect x="317.80" y="951.76" width="38.20" height="34.83" fill="#ffffbd"/>
<rect x="355.70" y="951.76" width="38.20" height="34.83" fill="#ffffbd"/>
<rect x="393.60" y="951.76" width="38.20" height="34.83" fill="#ffffbd"/>
<rect x="431.50" y="951.76" width="37.10" height="34.83" fill="#ffffcb"/>
<rect x="468.30" y="951.76" width="38.10" height="34.83" fill="#ffffaf"/>
<rect x="506.10" y="951.76" width="38.80" height="34.83" fill="#ffff99"/>
<rect x="544.60" y="951.76" width="37.60" height="34.83" fill="#ffff82"/>
<rect x="581.90" y="951.76" width="38.40" height="34.83" fill="#ffff62"/>
<rect x="620.00" y="951.76" width="36.90" height="34.83" fill="#ffff72"/>
<rect x="656.60" y="951.76" width="38.10" height="34.83" fill="#ffffaf"/>
<rect x="694.40" y="951.76" width="38.40" height="34.83" fill="#ffffaf"/>
<rect x="732.50" y="951.76" width="38.00" height="34.83" fill="#ffff8a"/>
<rect x="770.20" y="951.76" width="38.10" height="34.83" fill="#ffffaf"/>
<rect x="808.00" y="951.76" width="36.10" height="34.83" fill="#ffffaf"/>
<rect x="17.10" y="986.29" width="38.00" height="34.83" fill="#ffffff"/>
<rect x="54.80" y="986.29" width="37.10" height="34.83" fill="#ffffff"/>
<rect x="91.60" y="986.29" width="38.00" height="34.83" fill="#ffffff"/>
<rect x="129.30" y="986.29" width="38.30" height="34.83" fill="#ffffff"/>
<rect x="167.30" y="986.29" width="38.20" height="34.83" fill="#ffffec"/>
<rect x="205.20" y="986.29" width="38.20" height="34.83" fill="#ffffff"/>
<rect x="243.10" y="986.29" width="37.20" height="34.83" fill="#ffff99"/>
<rect x="280.00" y="986.29" width="38.10" height="34.83" fill="#ffffbd"/>
<rect x="317.80" y="986.29" width="38.20" height="34.83" fill="#ffffbd"/>
<rect x="355.70" y="986.29" width="38.20" height="34.83" fill="#ffffcb"/>
<rect x="393.60" y="986.29" width="38.20" height="34.83" fill="#fff800"/>
<rect x="431.50" y="986.29" width="37.10" height="34.83" fill="#ffff62"/>
<rect x="468.30" y="986.29" width="38.10" height="34.83" fill="#ffffbd"/>
<rect x="506.10" y="986.29" width="38.80" height="34.83" fill="#ffffd2"/>
<rect x="544.60" y="986.29" width="37.60" height="34.83" fill="#ffffe6"/>
<rect x="581.90" y="986.29" width="38.40" height="34.83" fill="#ffffff"/>
<rect x="620.00" y="986.29" width="36.90" height="34.83" fill="#ffffbd"/>
<rect x="656.60" y="986.29" width="38.10" height="34.83" fill="#ffffcb"/>
<rect x="694.40" y="986.29" width="38.40" height="34.83" fill="#ffffaf"/>
<rect x="732.50" y="986.29" width="38.00" height="34.83" fill="#ffffbd"/>
<rect x="770.20" y="986.29" width="38.10" height="34.83" fill="#ffffaf"/>
<rect x="808.00" y="986.29" width="36.10" height="34.83" fill="#ffffaf"/>
<rect x="17.10" y="1020.83" width="38.00" height="34.83" fill="#ffffdf"/>
<rect x="54.80" y="1020.83" width="37.10" height="34.83" fill="#ffffaf"/>
<rect x="91.60" y="1020.83" width="38.00" height="34.83" fill="#ffffd2"/>
<rect x="129.30" y="1020.83" width="38.30" height="34.83" fill="#ffffcb"/>
<rect x="167.30" y="1020.83" width="38.20" height="34.83" fill="#ffffcb"/>
<rect x="205.20" y="1020.83" width="38.20" height="34.83" fill="#ffffcb"/>
<rect x="243.10" y="1020.83" width="37.20" height="34.83" fill="#ffffd9"/>
<rect x="280.00" y="1020.83" width="38.10" height="34.83" fill="#ffffdf"/>
<rect x="317.80" y="1020.83" width="38.20" height="34.83" fill="#ffffaf"/>
<rect x="355.70" y="1020.83" width="38.20" height="34.83" fill="#ffffdf"/>
<rect x="393.60" y="1020.83" width="38.20" height="34.83" fill="#ffffd9"/>
<rect x="431.50" y="1020.83" width="37.10" height="34.83" fill="#ffffec"/>
<rect x="468.30" y="1020.83" width="38.10" height="34.83" fill="#ffffd2"/>
<rect x="506.10" y="1020.83" width="38.80" height="34.83" fill="#ffffdf"/>
<rect x="544.60" y="1020.83" width="37.60" height="34.83" fill="#fffa00"/>
<rect x="581.90" y="1020.83" width="38.40" height="34.83" fill="#ffffaf"/>
<rect x="620.00" y="1020.83" width="36.90" height="34.83" fill="#ffffe6"/>
<rect x="656.60" y="1020.83" width="38.10" height="34.83" fill="#ffffcb"/>
<rect x="694.40" y="1020.83" width="38.40" height="34.83" fill="#ffff52"/>
<rect x="732.50" y="1020.83" width="38.00" height="34.83" fill="#ffffcb"/>
<rect x="770.20" y="1020.83" width="38.10" height="34.83" fill="#ffffbd"/>
<rect x="808.00" y="1020.83" width="36.10" height="34.83" fill="#ffffbd"/>
<rect x="17.10" y="1055.36" width="38.00" height="34.83" fill="#ffffbd"/>
<rect x="54.80" y="1055.36" width="37.10" height="34.83" fill="#ffffd9"/>
<rect x="91.60" y="1055.36" width="38.00" height="34.83" fill="#ffffdf"/>
<rect x="129.30" y="1055.36" width="38.30" height="34.83" fill="#ffffe6"/>
<rect x="167.30" y="1055.36" width="38.20" height="34.83" fill="#ffffd2"/>
<rect x="205.20" y="1055.36" width="38.20" height="34.83" fill="#ffffaf"/>
<rect x="243.10" y="1055.36" width="37.20" height="34.83" fill="#ffffaf"/>
<rect x="280.00" y="1055.36" width="38.10" height="34.83" fill="#ffff8a"/>
<rect x="317.80" y="1055.36" width="38.20" height="34.83" fill="#ffffd9"/>
<rect x="355.70" y="1055.36" width="38.20" height="34.83" fill="#ffffd2"/>
<rect x="393.60" y="1055.36" width="38.20" height="34.83" fill="#ffff99"/>
<rect x="431.50" y="1055.36" width="37.10" height="34.83" fill="#fffa00"/>
<rect x="468.30" y="1055.36" width="38.10" height="34.83" fill="#ffffd2"/>
<rect x="506.10" y="1055.36" width="38.80" height="34.83" fill="#ffffd9"/>
<rect x="544.60" y="1055.36" width="37.60" height="34.83" fill="#ffffcb"/>
<rect x="581.90" y="1055.36" width="38.40" height="34.83" fill="#ffffbd"/>
<rect x="620.00" y="1055.36" width="36.90" height="34.83" fill="#ffffaf"/>
<rect x="656.60" y="1055.36" width="38.10" height="34.83" fill="#ffffbd"/>
<rect x="694.40" y="1055.36" width="38.40" height="34.83" fill="#ffff99"/>
<rect x="732.50" y="1055.36" width="38.00" height="34.83" fill="#ffff72"/>
<rect x="770.20" y="1055.36" width="38.10" height="34.83" fill="#ffffbd"/>
<rect x="808.00" y="1055.36" width="36.10" height="34.83" fill="#ffffbd"/>
<rect x="17.10" y="1089.90" width="38.00" height="34.83" fill="#ffffff"/>
<rect x="54.80" y="1089.90" width="37.10" height="34.83" fill="#ffffff"/>
<rect x="91.60" y="1089.90" width="38.00" height="34.83" fill="#ffffff"/>
<rect x="129.30" y="1089.90" width="38.30" height="34.83" fill="#ffffff"/>
<rect x="167.30" y="1089.90" width="38.20" height="34.83" fill="#ffffcb"/>
<rect x="205.20" y="1089.90" width="38.20" height="34.83" fill="#ffffd9"/>
<rect x="243.10" y="1089.90" width="37.20" height="34.83" fill="#ffffd9"/>
<rect x="280.00" y="1089.90" width="38.10" height="34.83" fill="#ffffdf"/>
<rect x="317.80" y="1089.90" width="38.20" height="34.83" fill="#ffffcb"/>
<rect x="355.70" y="1089.90" width="38.20" height="34.83" fill="#ffffd9"/>
<rect x="393.60" y="1089.90" width="38.20" height="34.83" fill="#ffff49"/>
<rect x="431.50" y="1089.90" width="37.10" height="34.83" fill="#ffff62"/>
<rect x="468.30" y="1089.90" width="38.10" height="34.83" fill="#ffff62"/>
<rect x="506.10" y="1089.90" width="38.80" height="34.83" fill="#ffff72"/>
<rect x="544.60" y="1089.90" width="37.60" height="34.83" fill="#ffffff"/>
<rect x="581.90" y="1089.90" width="38.40" height="34.83" fill="#ffffec"/>
<rect x="620.00" y="1089.90" width="36.90" height="34.83" fill="#ffffcb"/>
<rect x="656.60" y="1089.90" width="38.10" height="34.83" fill="#ffffcb"/>
<rect x="694.40" y="1089.90" width="38.40" height="34.83" fill="#ffffbd"/>
<rect x="732.50" y="1089.90" width="38.00" height="34.83" fill="#ffffcb"/>
<rect x="770.20" y="1089.90" width="38.10" height="34.83" fill="#ffffcb"/>
<rect x="808.00" y="1089.90" width="36.10" height="34.83" fill="#ffffbd"/>
<rect x="17.10" y="1124.43" width="38.00" height="34.83" fill="#ffffd9"/>
<rect x="54.80" y="1124.43" width="37.10" height="34.83" fill="#ffff99"/>
<rect x="91.60" y="1124.43" width="38.00" height="34.83" fill="#ffff99"/>
<rect x="129.30" y="1124.43" width="38.30" height="34.83" fill="#ffffbd"/>
<rect x="167.30" y="1124.43" width="38.20" height="34.83" fill="#ffffaf"/>
<rect x="205.20" y="1124.43" width="38.20" height="34.83" fill="#ffffdf"/>
<rect x="243.10" y="1124.43" width="37.20" height="34.83" fill="#ffffbd"/>
<rect x="280.00" y="1124.43" width="38.10" height="34.83" fill="#ffffd2"/>
<rect x="317.80" y="1124.43" width="38.20" height="34.83" fill="#ffffcb"/>
<rect x="355.70" y="1124.43" width="38.20" height="34.83" fill="#ffffd2"/>
<rect x="393.60" y="1124.43" width="38.20" height="34.83" fill="#ffffd9"/>
<rect x="431.50" y="1124.43" width="37.10" height="34.83" fill="#ffffdf"/>
<rect x="468.30" y="1124.43" width="38.10" height="34.83" fill="#ffffd9"/>
<rect x="506.10" y="1124.43" width="38.80" height="34.83" fill="#ffffec"/>
<rect x="544.60" y="1124.43" width="37.60" height="34.83" fill="#ffff99"/>
<rect x="581.90" y="1124.43" width="38.40" height="34.83" fill="#ffff72"/>
<rect x="620.00" y="1124.43" width="36.90" height="34.83" fill="#ffffdf"/>
<rect x="656.60" y="1124.43" width="38.10" height="34.83" fill="#ffff62"/>
<rect x="694.40" y="1124.43" width="38.40" height="34.83" fill="#ffffbd"/>
<rect x="732.50" y="1124.43" width="38.00" height="34.83" fill="#ffffcb"/>
<rect x="770.20" y="1124.43" width="38.10" height="34.83" fill="#ffffd9"/>
<rect x="808.00" y="1124.43" width="36.10" height="34.83" fill="#ffffbd"/>
<rect x="17.10" y="1158.97" width="38.00" height="34.83" fill="#ffffec"/>
<rect x="54.80" y="1158.97" width="37.10" height="34.83" fill="#ffffaf"/>
<rect x="91.60" y="1158.97" width="38.00" height="34.83" fill="#ffffbd"/>
<rect x="129.30" y="1158.97" width="38.30" height="34.83" fill="#ffffd2"/>
<rect x="167.30" y="1158.97" width="38.20" height="34.83" fill="#ffffcb"/>
<rect x="205.20" y="1158.97" width="38.20" height="34.83" fill="#ffffdf"/>
<rect x="243.10" y="1158.97" width="37.20" height="34.83" fill="#ffffe6"/>
<rect x="280.00" y="1158.97" width="38.10" height="34.83" fill="#fffff3"/>
<rect x="317.80" y="1158.97" width="38.20" height="34.83" fill="#ffffd9"/>
<rect x="355.70" y="1158.97" width="38.20" height="34.83" fill="#ffffe6"/>
<rect x="393.60" y="1158.97" width="38.20" height="34.83" fill="#ffffdf"/>
<rect x="431.50" y="1158.97" width="37.10" height="34.83" fill="#ffffdf"/>
<rect x="468.30" y="1158.97" width="38.10" height="34.83" fill="#ffffbd"/>
<rect x="506.10" y="1158.97" width="38.80" height="34.83" fill="#ffffdf"/>
<rect x="544.60" y="1158.97" width="37.60" height="34.83" fill="#ffffbd"/>
<rect x="581.90" y="1158.97" width="38.40" height="34.83" fill="#ffffaf"/>
<rect x="620.00" y="1158.97" width="36.90" height="34.83" fill="#ffffdf"/>
<rect x="656.60" y="1158.97" width="38.10" height="34.83" fill="#ffffbd"/>
<rect x="694.40" y="1158.97" width="38.40" height="34.83" fill="#ffff41"/>
<rect x="732.50" y="1158.97" width="38.00" height="34.83" fill="#ffffaf"/>
<rect x="770.20" y="1158.97" width="38.10" height="34.83" fill="#ffffd9"/>
<rect x="808.00" y="1158.97" width="36.10" height="34.83" fill="#ffffaf"/>
<path d="M54.80 192.00V1193.50M91.60 192.00V1193.50M129.30 192.00V1193.50M167.30 192.00V1193.50M205.20 192.00V1193.50M243.10 192.00V1193.50M280.00 192.00V1193.50M317.80 192.00V1193.50M355.70 192.00V1193.50M393.60 192.00V1193.50M431.50 192.00V1193.50M468.30 192.00V1193.50M506.10 192.00V1193.50M544.60 192.00V1193.50M581.90 192.00V1193.50M620.00 192.00V1193.50M656.60 192.00V1193.50M694.40 192.00V1193.50M732.50 192.00V1193.50M770.20 192.00V1193.50M808.00 192.00V1193.50M17.10 226.53H843.80M17.10 261.07H843.80M17.10 295.60H843.80M17.10 330.14H843.80M17.10 364.67H843.80M17.10 399.21H843.80M17.10 433.74H843.80M17.10 468.28H843.80M17.10 502.81H843.80M17.10 537.34H843.80M17.10 571.88H843.80M17.10 606.41H843.80M17.10 640.95H843.80M17.10 675.48H843.80M17.10 710.02H843.80M17.10 744.55H843.80M17.10 779.09H843.80M17.10 813.62H843.80M17.10 848.16H843.80M17.10 882.69H843.80M17.10 917.22H843.80M17.10 951.76H843.80M17.10 986.29H843.80M17.10 1020.83H843.80M17.10 1055.36H843.80M17.10 1089.90H843.80M17.10 1124.43H843.80M17.10 1158.97H843.80" stroke="#8d8d8a" stroke-width="3.1" fill="none"/>
<path d="M317.80 192.00V1193.50M544.60 192.00V1193.50" stroke="#000" stroke-width="3.3" fill="none"/>
<rect x="17.10" y="192.00" width="826.70" height="1001.50" stroke="#000" stroke-width="3.4" fill="none"/>
<path d="M35.95 192.00V91.80H73.20V192.00M110.45 192.00V83.20H148.30V192.00M186.25 192.00V95.00H224.15V192.00M261.55 192.00V91.80H298.90V192.00M54.57 91.80V56.30H129.38V83.20M205.20 95.00V49.60H280.23V91.80M91.97 56.30V37.10H242.71V49.60M336.75 192.00V116.70H374.65V192.00M412.55 192.00V125.80H449.90V192.00M487.20 192.00V121.00H525.35V192.00M431.23 125.80V51.20H506.28V121.00M563.25 192.00V77.10H600.95V192.00M638.30 192.00V70.00H675.50V192.00M713.45 192.00V108.00H751.35V192.00M789.10 192.00V88.10H825.90V192.00M732.40 108.00V61.20H807.50V88.10M656.90 70.00V50.20H769.95V61.20M582.10 77.10V33.50H713.42V50.20M468.75 51.20V19.50H647.76V33.50M355.70 116.70V16.00H558.26V19.50M167.34 37.10V8.50H456.98V16.00" stroke="#000" stroke-width="3.8" fill="none" stroke-linecap="square"/>
<defs><linearGradient id="lg" x1="0" y1="1" x2="0" y2="0">
<stop offset="0.0000" stop-color="rgb(255,255,255)"/>
<stop offset="0.3333" stop-color="rgb(255,255,0)"/>
<stop offset="0.6667" stop-color="rgb(255,165,0)"/>
<stop offset="1.0000" stop-color="rgb(255,0,0)"/>
</linearGradient></defs>
<rect x="1309.6" y="192.4" width="36.4" height="519" fill="url(#lg)"/>
</svg>
<svg width="1407" height="1266" viewBox="0 0 1407 1266" style="position:absolute;left:0;top:0;will-change:transform" font-family="Liberation Sans, sans-serif" fill="#000" stroke="#000" stroke-width="0.4">
<text class="rl" x="856.20" y="218.12" font-size="26.00" letter-spacing="1.10" textLength="424.18" lengthAdjust="spacing">Chlorophyta.Chlamydomonadales</text>
<text class="rl" x="856.20" y="252.65" font-size="26.00" letter-spacing="1.10" textLength="298.69" lengthAdjust="spacing">Chlorophyta.Prasiolales</text>
<text class="rl" x="856.20" y="287.19" font-size="26.00" letter-spacing="1.10" textLength="296.18" lengthAdjust="spacing">Fungi.Pucciniomycotina</text>
<text class="rl" x="856.20" y="321.72" font-size="26.00" letter-spacing="1.10" textLength="296.18" lengthAdjust="spacing">Fungi.Pucciniomycotina</text>
<text class="rl" x="856.20" y="356.26" font-size="26.00" letter-spacing="1.10" textLength="328.56" lengthAdjust="spacing">Chlorophyta.Chloromonas</text>
<text class="rl" x="856.20" y="390.79" font-size="26.00" letter-spacing="1.10" textLength="339.57" lengthAdjust="spacing">Dinoflagellata.Suessiaceae</text>
<text class="rl" x="856.20" y="425.32" font-size="26.00" letter-spacing="1.10" textLength="291.99" lengthAdjust="spacing">Ciliophora.Oxytrichidae</text>
<text class="rl" x="856.20" y="459.86" font-size="26.00" letter-spacing="1.10" textLength="299.80" lengthAdjust="spacing">Fungi.Chytridiomycotina</text>
<text class="rl" x="856.20" y="494.39" font-size="26.00" letter-spacing="1.10" textLength="328.56" lengthAdjust="spacing">Chlorophyta.Chloromonas</text>
<text class="rl" x="856.20" y="528.93" font-size="26.00" letter-spacing="1.10" textLength="328.56" lengthAdjust="spacing">Chlorophyta.Chloromonas</text>
<text class="rl" x="856.20" y="563.46" font-size="26.00" letter-spacing="1.10" textLength="250.56" lengthAdjust="spacing">Fungi.Cryptococcus</text>
<text class="rl" x="856.20" y="598.00" font-size="26.00" letter-spacing="1.10" textLength="328.56" lengthAdjust="spacing">Chlorophyta.Chloromonas</text>
<text class="rl" x="856.20" y="632.53" font-size="26.00" letter-spacing="1.10" textLength="352.47" lengthAdjust="spacing">Chlorophyta.Chlorococcales</text>
<text class="rl" x="856.20" y="667.07" font-size="26.00" letter-spacing="1.10" textLength="335.19" lengthAdjust="spacing">Dinoflagellata.Parvodinium</text>
<text class="rl" x="856.20" y="701.60" font-size="26.00" letter-spacing="1.10" textLength="329.99" lengthAdjust="spacing">Chlorophyta.Asterococcus</text>
<text class="rl" x="856.20" y="736.13" font-size="26.00" letter-spacing="1.10" textLength="292.02" lengthAdjust="spacing">Ciliophora.Frontoniidae</text>
<text class="rl" x="856.20" y="770.67" font-size="26.00" letter-spacing="1.10" textLength="328.56" lengthAdjust="spacing">Chlorophyta.Chloromonas</text>
<text class="rl" x="856.20" y="805.20" font-size="26.00" letter-spacing="1.10" textLength="253.67" lengthAdjust="spacing">Fungi.Cladosporium</text>
<text class="rl" x="856.20" y="839.74" font-size="26.00" letter-spacing="1.10" textLength="424.18" lengthAdjust="spacing">Chlorophyta.Chlamydomonadales</text>
<text class="rl" x="856.20" y="874.27" font-size="26.00" letter-spacing="1.10" textLength="316.22" lengthAdjust="spacing">Dinoflagellata.Suessiales</text>
<text class="rl" x="856.20" y="908.81" font-size="26.00" letter-spacing="1.10" textLength="244.24" lengthAdjust="spacing">Fungi.Rhizophlyctis</text>
<text class="rl" x="856.20" y="943.34" font-size="26.00" letter-spacing="1.10" textLength="243.95" lengthAdjust="spacing">Fungi.Guehomyces</text>
<text class="rl" x="856.20" y="977.88" font-size="26.00" letter-spacing="1.10" textLength="328.16" lengthAdjust="spacing">Chlorophyta.Chloromonas</text>
<text class="rl" x="856.20" y="1012.41" font-size="26.00" letter-spacing="1.10" textLength="352.57" lengthAdjust="spacing">Chlorophyta.Chlorococcales</text>
<text class="rl" x="856.20" y="1046.94" font-size="26.00" letter-spacing="1.10" textLength="190.61" lengthAdjust="spacing">Fungi.Kriegeria</text>
<text class="rl" x="856.20" y="1081.48" font-size="26.00" letter-spacing="1.10" textLength="390.28" lengthAdjust="spacing">Chlorophyta.Monomastigaceae</text>
<text class="rl" x="856.20" y="1116.01" font-size="26.00" letter-spacing="1.10" textLength="315.72" lengthAdjust="spacing">Dinoflagellata.Suessiales</text>
<text class="rl" x="856.20" y="1150.55" font-size="26.00" letter-spacing="1.10" textLength="259.35" lengthAdjust="spacing">Fungi.Basidiomycota</text>
<text class="rl" x="856.20" y="1185.08" font-size="26.00" letter-spacing="1.10" textLength="296.58" lengthAdjust="spacing">Fungi.Pucciniomycotina</text>
<text x="1359.00" y="260.20" font-size="27.50" letter-spacing="0.30">0.8</text>
<text x="1359.00" y="377.90" font-size="27.50" letter-spacing="0.30">0.6</text>
<text x="1359.00" y="495.30" font-size="27.50" letter-spacing="0.30">0.4</text>
<text x="1359.00" y="611.60" font-size="27.50" letter-spacing="0.30">0.2</text>
<text x="1359.00" y="729.00" font-size="27.50" letter-spacing="0.30">0</text>
<text x="122.00" y="1250.30" font-size="42.00" letter-spacing="0.00" stroke-width="0.15">Ice</text>
<text x="362.30" y="1252.00" font-size="42.00" letter-spacing="0.00" stroke-width="0.15">Ponds</text>
<text x="634.50" y="1250.00" font-size="42.00" letter-spacing="0.00" stroke-width="0.15">Snow</text>
</svg>
</body></html>
